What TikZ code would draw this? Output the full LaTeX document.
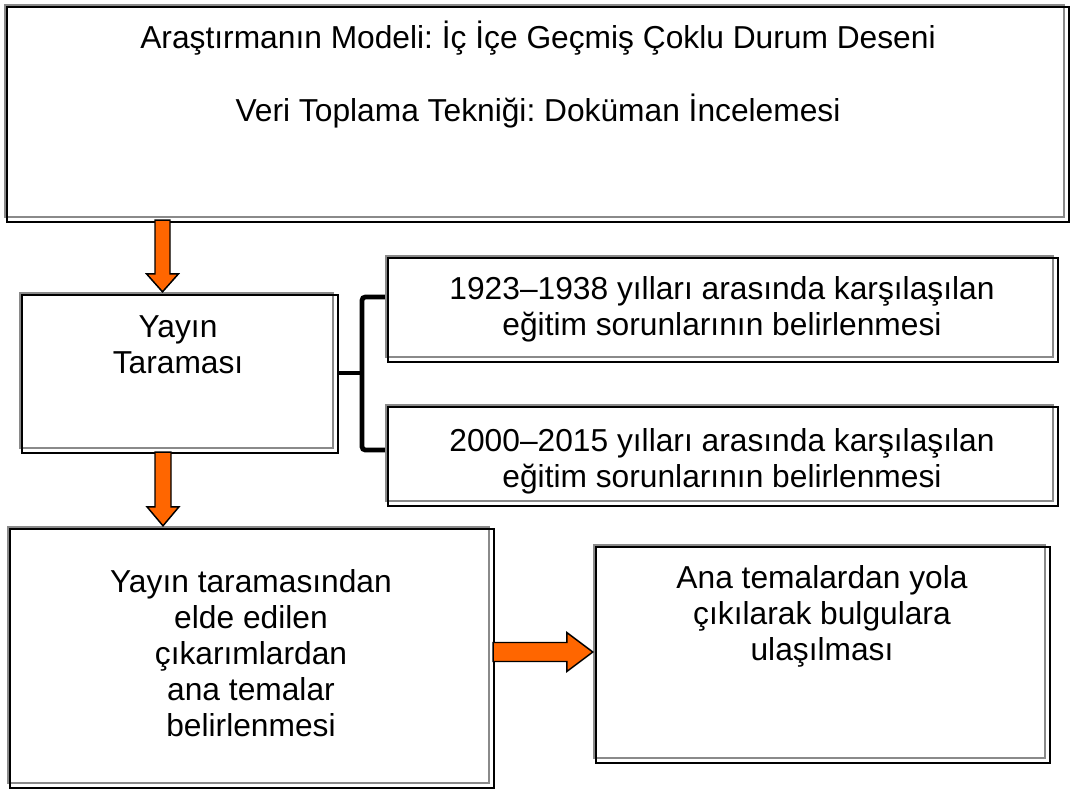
\documentclass[tikz,border=0pt]{standalone}
\usepackage{fontspec}
\setmainfont{Liberation Sans}
\frenchspacing
\usetikzlibrary{calc,fit}
\definecolor{orng}{HTML}{FF6600}
\definecolor{bgray}{HTML}{8A8A8A}
\begin{document}
\begin{tikzpicture}[x=0.75pt,y=-0.75pt,
  gbox/.style={draw=bgray,line width=1.8pt,inner sep=0pt,fill=white},
  bline/.style={draw=black,line width=1.6pt},
  txt/.style={align=center,inner sep=0pt,anchor=base,font=\fontsize{23.8}{27}\selectfont},
  oarrow/.style={fill=orng,draw=black,line width=1.1pt,line join=miter},
  bracket/.style={draw=black,line width=3.6pt,rounded corners=2.5pt}]
\useasboundingbox (0,0) rectangle (1075,789);
% boxes
\node[gbox,fit={(5,5) (1064,217)}] (b1) {};
\node[gbox,fit={(20,293) (333,448)}] (b2) {};
\node[gbox,fit={(386,256) (1053,357)}] (b3) {};
\node[gbox,fit={(386,405) (1053,501)}] (b4) {};
\node[gbox,fit={(8,527) (489,783)}] (b5) {};
\node[gbox,fit={(594,545) (1045,758)}] (b6) {};
\foreach \b in {b1,b2,b3,b4,b5,b6}{
  \draw[bline] ($(\b.north west)+(3.5,3.5)$) rectangle ($(\b.south east)+(3.5,3.5)$);
}
% texts (anchor = baseline of the last line)
\node[txt] (t1) at (538,48) {Araştırmanın Modeli: İç İçe Geçmiş Çoklu Durum Deseni};
\node[txt] (t1b) at (538,121) {Veri Toplama Tekniği: Doküman İncelemesi};
\node[txt] (t2) at (178,373) {Yayın\\Taraması};
\node[txt] (t3) at (722,335) {1923–1938 yılları arasında karşılaşılan\\eğitim sorunlarının belirlenmesi};
\node[txt] (t4) at (722,487) {2000–2015 yılları arasında karşılaşılan\\eğitim sorunlarının belirlenmesi};
\node[txt] (t5) at (251,736) {Yayın taramasından\\elde edilen\\çıkarımlardan\\ana temalar\\belirlenmesi};
\node[txt] (t6) at (822,660) {Ana temalardan yola\\çıkılarak bulgulara\\ulaşılması};
% arrow 1
\coordinate (a1s) at (b1.south -| 162.5,0);
\coordinate (a1e) at (b2.north -| 162.5,0);
\draw[oarrow] ($(a1s)+(-7.5,2)$) -- ($(a1e)+(-7.5,-18)$) -- ($(a1e)+(-16,-18)$) -- (a1e)
  -- ($(a1e)+(16,-18)$) -- ($(a1e)+(7.5,-18)$) -- ($(a1s)+(7.5,2)$) -- cycle;
% arrow 2
\coordinate (a2s) at (b2.south -| 163,0);
\coordinate (a2e) at (b5.north -| 163,0);
\draw[oarrow] ($(a2s)+(-8,3)$) -- ($(a2e)+(-8,-19)$) -- ($(a2e)+(-16,-19)$) -- (a2e)
  -- ($(a2e)+(16,-19)$) -- ($(a2e)+(8,-19)$) -- ($(a2s)+(8,3)$) -- cycle;
% arrow 3
\coordinate (a3s) at (b5.east |- 0,652);
\coordinate (a3e) at (b6.west |- 0,652);
\draw[oarrow] ($(a3s)+(3,-9.5)$) -- ($(a3e)+(-26,-9.5)$) -- ($(a3e)+(-26,-19.5)$) -- (a3e)
  -- ($(a3e)+(-26,19.5)$) -- ($(a3e)+(-26,9.5)$) -- ($(a3s)+(3,9.5)$) -- cycle;
% bracket
\coordinate (cm) at (362,373);
\coordinate (c3) at (b3.west |- 0,297);
\coordinate (c4) at (b4.west |- 0,450);
\draw[bracket] ($(b2.east |- cm)+(3,0)$) -- (cm);
\draw[bracket] (c3) -| (cm) |- (c4);
\end{tikzpicture}
\end{document}
